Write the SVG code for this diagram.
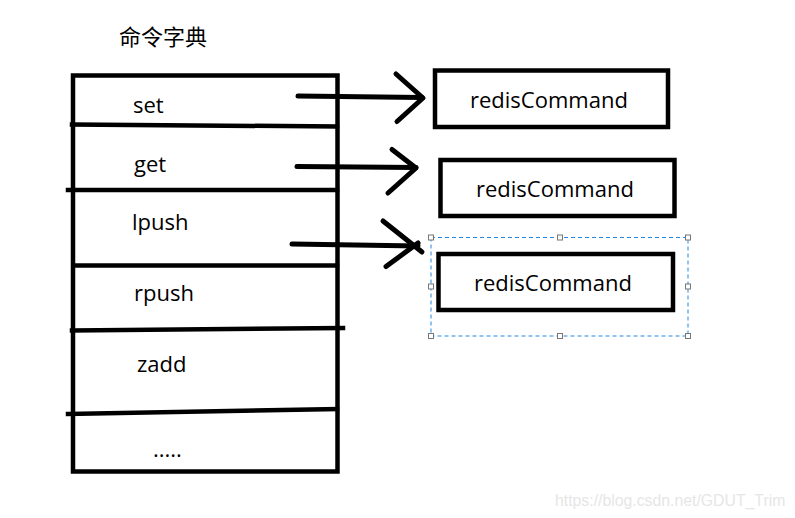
<svg xmlns="http://www.w3.org/2000/svg" width="795" height="518" viewBox="0 0 795 518">
<style>
.t{font-family:"Open Sans","Noto Sans","Noto Sans CJK SC",sans-serif;font-size:22px;fill:#000}
.ln{stroke:#000;stroke-width:4.5;fill:none;stroke-linecap:square}
.box{stroke:#000;stroke-width:4.5;fill:#fff}
.ar{stroke:#000;stroke-width:5;fill:none;stroke-linecap:round;stroke-linejoin:round}
.h{fill:#fff;stroke:#777;stroke-width:1}
</style>
<rect width="795" height="518" fill="#fff"/>
<text x="119" y="45" style="font-family:'Noto Sans CJK SC',sans-serif;font-size:22px;fill:#000">命令字典</text>
<g id="dict">
<rect x="73" y="75.5" width="264.5" height="396" class="ln"/>
<path class="ln" d="M72 124.5 L337 126.5"/>
<path class="ln" d="M68 190 L337 190"/>
<path class="ln" d="M76 265.5 L337 265.5"/>
<path class="ln" d="M72 330.5 L343 328"/>
<path class="ln" d="M68 414 L337 409"/>
<text class="t" x="133" y="113">set</text>
<text class="t" x="134" y="172">get</text>
<text class="t" x="132" y="230">lpush</text>
<text class="t" x="134" y="301">rpush</text>
<text class="t" x="137" y="372">zadd</text>
<text class="t" x="153" y="457">.....</text>
</g>
<g id="cmd1">
<rect class="box" x="435" y="70.5" width="233" height="56.5"/>
<text class="t" x="470" y="108">redisCommand</text>
</g>
<g id="cmd2">
<rect class="box" x="440.5" y="160" width="234" height="56"/>
<text class="t" x="476" y="197">redisCommand</text>
</g>
<g id="cmd3">
<rect x="431" y="237.5" width="257" height="98.5" fill="none" stroke="#1e88e5" stroke-width="1" stroke-dasharray="4,3"/>
<rect class="box" x="438.5" y="254" width="234.5" height="56"/>
<text class="t" x="474" y="291">redisCommand</text>
<g class="h">
<rect x="428.5" y="235" width="5" height="5"/>
<rect x="557.5" y="235" width="5" height="5"/>
<rect x="685.5" y="235" width="5" height="5"/>
<rect x="428.5" y="284" width="5" height="5"/>
<rect x="685.5" y="284" width="5" height="5"/>
<rect x="428.5" y="333.5" width="5" height="5"/>
<rect x="557.5" y="333.5" width="5" height="5"/>
<rect x="685.5" y="333.5" width="5" height="5"/>
</g>
</g>
<g id="connectors">
<path class="ar" d="M298 96 L422 97.5"/>
<path class="ar" d="M396 74 L423 98 L397 121.5"/>
<path class="ar" d="M297 166.5 L416 167.5"/>
<path class="ar" d="M392 149.5 L416 168 L388 193"/>
<path class="ar" d="M292 244 L418 246"/>
<path class="ar" d="M383 221 L422 252"/>
<path class="ar" d="M386 266.5 L418 243"/>
</g>
<text x="555" y="506" style="font-family:'Liberation Sans',Arial,sans-serif;font-size:15.8px;fill:#e6e6e6">https://blog.csdn.net/GDUT_Trim</text>
</svg>
